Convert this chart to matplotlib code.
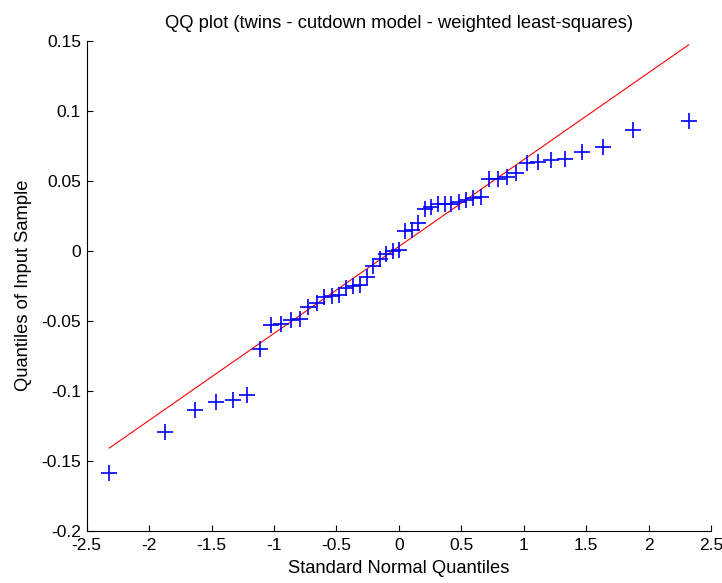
import numpy as np
import matplotlib
matplotlib.use("Agg")
import matplotlib.pyplot as plt

plt.rcParams['font.family'] = ['Liberation Sans', 'DejaVu Sans']

# standard normal quantiles (x) vs sorted residuals (y)
x_quant = [-2.319, -1.872, -1.635, -1.466, -1.329, -1.215, -1.114, -1.024, -0.940,
           -0.864, -0.792, -0.724, -0.658, -0.596, -0.536, -0.478, -0.421, -0.366,
           -0.311, -0.258, -0.206, -0.154, -0.102, -0.051, 0.000, 0.051, 0.102,
           0.154, 0.206, 0.258, 0.311, 0.366, 0.421, 0.478, 0.536, 0.596, 0.658,
           0.724, 0.792, 0.864, 0.940, 1.024, 1.114, 1.215, 1.329, 1.466, 1.635,
           1.872, 2.319]
y_sample = [-0.1586, -0.1298, -0.1141, -0.1084, -0.1063, -0.1030, -0.0705, -0.0530,
            -0.0523, -0.0494, -0.0490, -0.0405, -0.0375, -0.0333, -0.0322, -0.0315,
            -0.0270, -0.0255, -0.0248, -0.0190, -0.0107, -0.0062, -0.0022, 0.0000,
            0.0002, 0.0143, 0.0148, 0.0200, 0.0298, 0.0310, 0.0333, 0.0333, 0.0335,
            0.0350, 0.0365, 0.0375, 0.0380, 0.0512, 0.0515, 0.0525, 0.0556, 0.0628,
            0.0637, 0.0645, 0.0656, 0.0707, 0.0739, 0.0863, 0.0925]

# reference line endpoints
line_x = [-2.319, 2.319]
line_y = [-0.141, 0.147]

xticks = [-2.5, -2, -1.5, -1, -0.5, 0, 0.5, 1, 1.5, 2, 2.5]
xtick_labels = ['-2.5', '-2', '-1.5', '-1', '-0.5', '0', '0.5', '1', '1.5', '2', '2.5']
yticks = [-0.2, -0.15, -0.1, -0.05, 0, 0.05, 0.1, 0.15]
ytick_labels = ['-0.2', '-0.15', '-0.1', '-0.05', '0', '0.05', '0.1', '0.15']

fig = plt.figure(figsize=(7.22, 5.83), dpi=100)
ax = fig.add_axes([0.120, 0.0897, 0.865, 0.8405])

ax.plot(line_x, line_y, color='red', lw=0.8)
ax.plot(x_quant, y_sample, ls='none', marker='+', color='blue',
        markersize=11, markeredgewidth=1.2)

ax.set_xlim(-2.5, 2.5)
ax.set_ylim(-0.2, 0.15)
ax.set_xticks(xticks)
ax.set_xticklabels(xtick_labels)
ax.set_yticks(yticks)
ax.set_yticklabels(ytick_labels)
ax.tick_params(direction='in', length=4, width=0.8, labelsize=12.5)
ax.tick_params(axis='x', pad=5)
ax.tick_params(axis='y', pad=4)

ax.spines['top'].set_visible(False)
ax.spines['right'].set_visible(False)
ax.spines['left'].set_linewidth(0.8)
ax.spines['bottom'].set_linewidth(0.8)

ax.set_title("QQ plot (twins - cutdown model - weighted least-squares)", fontsize=13.2, pad=9)
ax.set_xlabel("Standard Normal Quantiles", fontsize=13.2, labelpad=5)
ax.set_ylabel("Quantiles of Input Sample", fontsize=13.2, labelpad=7)

fig.savefig("out.png", dpi=100)
